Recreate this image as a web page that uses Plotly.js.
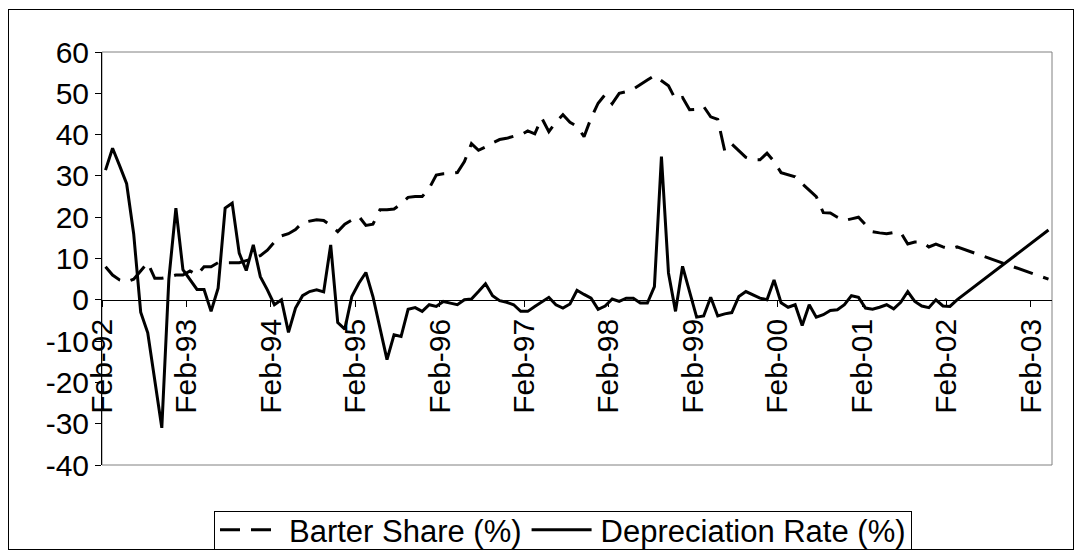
<!DOCTYPE html>
<html>
<head>
<meta charset="utf-8">
<script src="https://cdn.plot.ly/plotly-3.0.1.min.js"></script>
<style>
  html, body { margin: 0; padding: 0; background: #ffffff; }
  #wrap { position: relative; width: 1083px; height: 558px; }
  #chart { width: 1083px; height: 558px; }
  #frame { position: absolute; left: 8px; top: 9px; width: 1064px; height: 539px;
           border: 1.5px solid #000; pointer-events: none; }
</style>
</head>
<body>
<div id="wrap">
  <div id="chart"></div>
  <div id="frame"></div>
</div>
<script>
// X tick labels (one every 12 months, starting Feb-92)
const tickLabels = ["Feb-92","Feb-93","Feb-94","Feb-95","Feb-96","Feb-97",
                    "Feb-98","Feb-99","Feb-00","Feb-01","Feb-02","Feb-03"];

// Y tick values and labels (hyphen minus as in the original)
const yTickValues = [-40, -30, -20, -10, 0, 10, 20, 30, 40, 50, 60];
const yTickLabels = ["-40", "-30", "-20", "-10", "0", "10", "20", "30", "40", "50", "60"];

// Barter Share (%), monthly from Feb-92 (null = no observation, line is joined across)
const barterShare = [
  8, 6, 4.8, 4.3, 5, 7, 9, 5.2, 5.2, 5.5, 6, 6,
  7, 6, 8, 8, 9, 9, 9, 9, 9.5, 10, 10.7, 12,
  14, 15.5, 16, 17, 18.7, 19, 19.4, 19.2, 18, 16.5, 18.3, 19.3,
  20.2, 18, 18.3, 21.8, 21.8, 22, 23.2, 24.8, 25, 25, 27, 30.2,
  30.5, 30.6, 30.8, 33.5, 37.8, 36.2, 37, 38, 38.8, 39.1, 39.6, 39.9,
  40.9, 40.2, 44, 40.7, 43, 44.8, 43, 42, 39.5, 44, 47.6, 49.7,
  47.5, 50, 50.4, 51, 52, 53.2, 54.3, 53, 51.8, 48.5, 49, 46,
  46.1, 46.8, 44.3, 43.7, 36, 37.7, 36, 34.5, 33.9, 33.9, 35.5, 33.5,
  30.8, 30.3, 29.8, 28.1, 26.5, 25, 21.1, 21, 20, 19.2, 19.6, 20,
  18.2, 16.5, 16.2, 16, 16.3, 16.3, 13.5, 14, 14, 12.8, 13.5, 12.8,
  12.3, 12.8, null, null, null, null, null, null, null, null, null, null,
  null, null, 5
];

// Depreciation Rate (%), monthly from Feb-92
const depreciationRate = [
  31.4, 36.7, 32.5, 28.1, 16, -3, -8, -19, -31, 5, 22.2, 7.3,
  5, 2.5, 2.5, -2.8, 2.8, 22.2, 23.4, 11.3, 7.1, 13.3, 5.6, 2.4,
  -1.2, 0, -7.9, -2, 1, 2, 2.4, 1.9, 13.3, -5.5, -7.1, 0.8,
  4, 6.6, 0.8, -7, -14.5, -8.5, -8.9, -2.3, -1.9, -2.8, -1.2, -1.6,
  -0.4, -0.8, -1.2, 0, 0.2, 2, 3.9, 1, -0.2, -0.6, -1.2, -2.8,
  -2.8, -1.6, -0.6, 0.6, -1.2, -2, -1, 2.3, 1.3, 0.4, -2.3, -1.5,
  0.2, -0.4, 0.4, 0.4, -0.8, -0.8, 3.2, 34.7, 6.5, -2.8, 8.1, 1.8,
  -4.2, -3.9, 0.6, -3.9, -3.4, -3.1, 0.8, 2, 1.2, 0.4, 0, 4.8,
  -0.7, -1.8, -1.2, -6.2, -1.2, -4.2, -3.6, -2.6, -2.4, -1.2, 1, 0.6,
  -2, -2.3, -1.8, -1.2, -2.2, -0.6, 2, -0.4, -1.5, -1.9, 0, -1.5,
  -1.6, 0, null, null, null, null, null, null, null, null, null, null,
  null, null, 16.9
];

// month index of every observation (category positions)
const monthIndex = barterShare.map((_, i) => i);
// tick marks sit on the category boundary before each labelled February
const tickPositions = tickLabels.map((_, k) => k * 12 - 0.5);

const FONT = "Liberation Sans, Arial, sans-serif";

const traces = [
  {
    x: monthIndex, y: barterShare, name: "Barter Share (%)",
    type: "scatter", mode: "lines", connectgaps: true,
    line: { color: "#000000", width: 3, dash: "20px,11px" }
  },
  {
    x: monthIndex, y: depreciationRate, name: "Depreciation Rate (%)",
    type: "scatter", mode: "lines", connectgaps: true,
    line: { color: "#000000", width: 3 }
  }
];

const layout = {
  width: 1083, height: 558,
  margin: { l: 102, r: 31, t: 52, b: 93, pad: 0, autoexpand: false },
  paper_bgcolor: "#ffffff", plot_bgcolor: "#ffffff",
  font: { family: FONT, color: "#000000", size: 22 },
  showlegend: true,
  legend: {
    orientation: "h", x: 0.485, xanchor: "center", y: -0.09, yanchor: "top",
    bordercolor: "#000000", borderwidth: 1, bgcolor: "#ffffff",
    font: { family: FONT, size: 31, color: "#000000" },
    itemwidth: 64, tracegroupgap: 0
  },
  xaxis: {
    range: [-0.5, 134.5], anchor: "free", position: 0.4,
    showgrid: false, zeroline: false,
    showline: true, linecolor: "#000000", linewidth: 1,
    ticks: "outside", ticklen: 6, tickcolor: "#000000", tickwidth: 1,
    tickmode: "array", tickvals: tickPositions, ticktext: tickLabels,
    tickangle: -90, tickfont: { family: FONT, size: 30, color: "#000000" }
  },
  yaxis: {
    range: [-40, 60],
    tickmode: "array", tickvals: yTickValues, ticktext: yTickLabels,
    showgrid: false, zeroline: false,
    showline: true, linecolor: "#000000", linewidth: 1,
    ticks: "outside", ticklen: 6, tickcolor: "#000000",
    tickfont: { family: FONT, size: 30, color: "#000000" }
  },
  shapes: [
    { type: "rect", xref: "paper", yref: "paper", x0: 0, x1: 1, y0: 0, y1: 1,
      line: { color: "#808080", width: 1 }, layer: "below" }
  ]
};

Plotly.newPlot("chart", traces, layout, { staticPlot: true, displayModeBar: false })
  .then(function (gd) {
    const leg = gd.querySelector("g.legend");
    if (!leg) return;
    // longer line samples, as in the original legend
    leg.querySelectorAll("g.legendlines path").forEach(function (p) {
      p.setAttribute("d", "M5,0h60");
    });
    // tighter legend box, centred where the original box sits
    const bg = leg.querySelector("rect.bg");
    if (!bg) return;
    const h = parseFloat(bg.getAttribute("height"));
    const w = parseFloat(bg.getAttribute("width"));
    const target = 38;
    let by = parseFloat(bg.getAttribute("y") || "0");
    const bx = parseFloat(bg.getAttribute("x") || "0");
    if (h > target) {
      by = by + (h - target) / 2;
      bg.setAttribute("y", by);
      bg.setAttribute("height", target);
    }
    const m = /translate\(\s*([-\d.]+)[ ,]+([-\d.]+)\s*\)/.exec(leg.getAttribute("transform") || "");
    if (m) {
      const boxTop = 511, boxCenterX = 563;
      const tx = boxCenterX - w / 2 - bx;
      const ty = boxTop - by;
      leg.setAttribute("transform", "translate(" + tx + "," + ty + ")");
    }
  });
</script>
</body>
</html>
